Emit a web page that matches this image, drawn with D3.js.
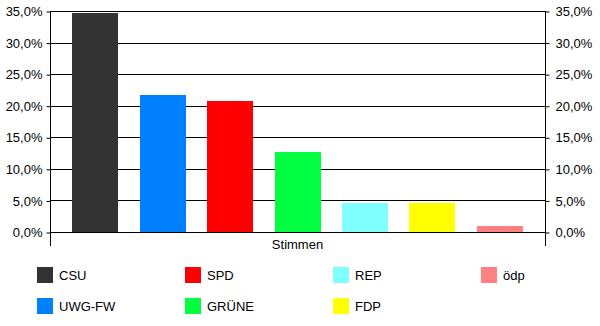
<!DOCTYPE html>
<html>
<head>
<meta charset="utf-8">
<script src="https://cdn.jsdelivr.net/npm/d3@7"></script>
<style>
  body { margin: 0; background: #fff; }
  svg { font-family: "Liberation Sans", Arial, sans-serif; }
</style>
</head>
<body>
<svg width="600" height="326"></svg>
<script>
// data (percent of votes)
const parties = ["CSU", "UWG-FW", "SPD", "GRÜNE", "REP", "FDP", "ödp"]
const votes = [34.7, 21.7, 20.8, 12.7, 4.6, 4.6, 1.0]
const colors = ["#333333", "#0080ff", "#ff0000", "#00ff40", "#80ffff", "#ffff00", "#ff8080"]
const yTicks = [0, 5, 10, 15, 20, 25, 30, 35]
const category = "Stimmen"

const svg = d3.select("svg")

const plotLeft = 50, plotRight = 545, plotTop = 11, plotBottom = 232

const de = d3.formatLocale({ decimal: ",", thousands: ".", grouping: [3], currency: ["", " €"] })
const fmt = d => de.format(".1f")(d) + "%"

const y = d3.scaleLinear().domain([0, 35]).range([plotBottom, plotTop])
const x = d3.scaleBand().domain(parties).range([plotLeft, plotRight])
  .paddingInner(0.32).paddingOuter(0.33)

// gridlines
svg.append("g")
  .selectAll("line")
  .data(yTicks)
  .enter()
  .append("line")
  .attr("x1", plotLeft).attr("x2", plotRight)
  .attr("y1", d => Math.round(y(d)) + 0.5)
  .attr("y2", d => Math.round(y(d)) + 0.5)
  .attr("stroke", "#000")

// bars
svg.append("g")
  .selectAll("rect")
  .data(parties)
  .enter()
  .append("rect")
  .attr("x", d => Math.round(x(d)))
  .attr("width", Math.round(x.bandwidth()))
  .attr("y", (d, i) => Math.round(y(votes[i])))
  .attr("height", (d, i) => Math.round(y(0)) - Math.round(y(votes[i])))
  .attr("fill", (d, i) => colors[i])

// left and right value axes
const leftAxis = d3.axisLeft(y).tickValues(yTicks).tickFormat(fmt).tickSize(4).tickPadding(4)
const rightAxis = d3.axisRight(y).tickValues(yTicks).tickFormat(fmt).tickSize(4).tickPadding(6)

function styleAxis(g) {
  g.select(".domain").remove()
  g.selectAll("line").attr("stroke", "#000")
  g.selectAll("text").attr("font-size", 13).attr("fill", "#000")
    .attr("font-family", "'Liberation Sans', Arial, sans-serif")
}

svg.append("g").attr("transform", `translate(${plotLeft + 0.5},0.5)`).call(leftAxis).call(styleAxis)
svg.append("g").attr("transform", `translate(${plotRight + 0.5},0.5)`).call(rightAxis).call(styleAxis)

// vertical axis lines, running a bit below zero
svg.append("line").attr("x1", plotLeft + 0.5).attr("x2", plotLeft + 0.5)
  .attr("y1", plotTop).attr("y2", 246).attr("stroke", "#000")
svg.append("line").attr("x1", plotRight + 0.5).attr("x2", plotRight + 0.5)
  .attr("y1", plotTop).attr("y2", 246).attr("stroke", "#000")

// category label
svg.append("text")
  .attr("x", (plotLeft + plotRight) / 2)
  .attr("y", 249)
  .attr("text-anchor", "middle")
  .attr("font-size", 13)
  .text(category)

// legend, filled column by column (two rows)
const legend = svg.append("g")
  .selectAll("g")
  .data(parties)
  .enter()
  .append("g")
  .attr("transform", (d, i) => `translate(${37 + Math.floor(i / 2) * 148},${267 + (i % 2) * 31})`)

legend.append("rect")
  .attr("width", 16).attr("height", 16)
  .attr("fill", (d, i) => colors[i])

legend.append("text")
  .attr("x", 22).attr("y", 13)
  .attr("font-size", 13)
  .text(d => d)
</script>
</body>
</html>
